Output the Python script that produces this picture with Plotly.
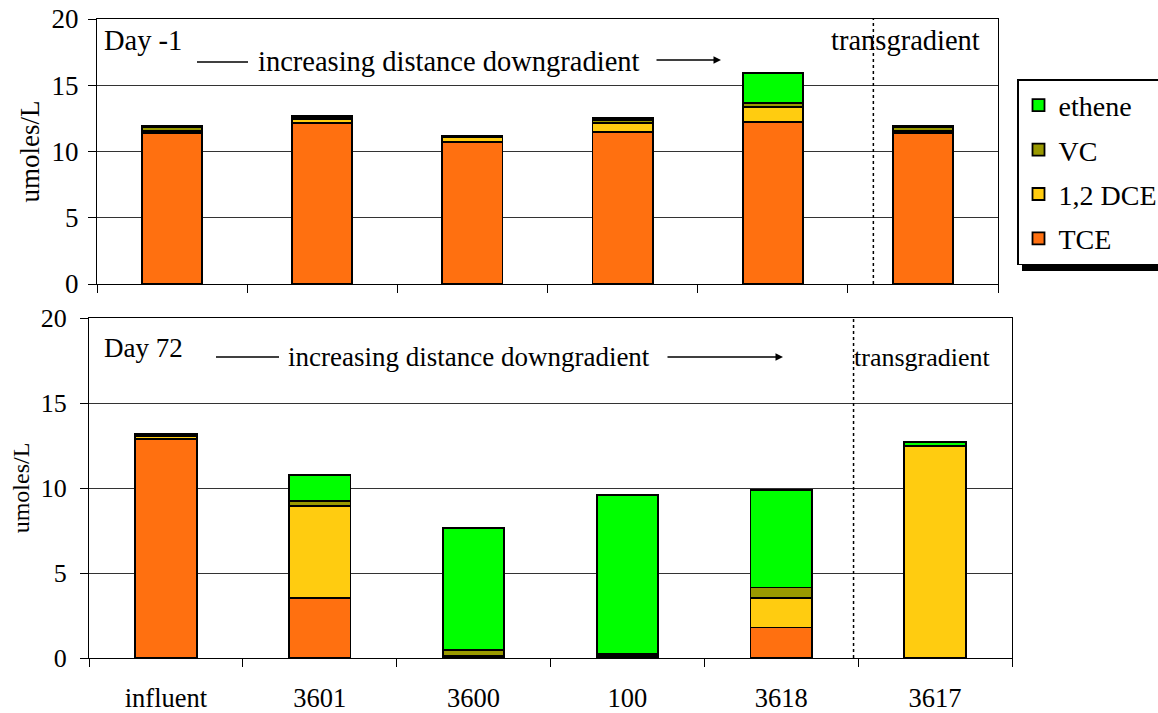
import plotly.graph_objects as go

W, H = 1158, 713

categories = ["influent", "3601", "3600", "100", "3618", "3617"]

# Day -1 (umoles/L)
tce_day_m1 = [11.4, 12.15, 10.7, 11.45, 12.2, 11.4]
dce_day_m1 = [0.15, 0.3, 0.35, 0.7, 1.15, 0.15]
vc_day_m1 = [0.3, 0.15, 0.1, 0.2, 0.3, 0.3]
ethene_day_m1 = [0.05, 0.05, 0.05, 0.15, 2.25, 0.05]

# Day 72 (umoles/L)
tce_day_72 = [12.9, 3.55, 0.05, 0.05, 1.8, 0.0]
dce_day_72 = [0.15, 5.4, 0.1, 0.05, 1.75, 12.45]
vc_day_72 = [0.1, 0.3, 0.3, 0.15, 0.6, 0.0]
ethene_day_72 = [0.05, 1.5, 7.2, 9.35, 5.75, 0.25]

series_names = ["TCE", "1,2 DCE", "VC", "ethene"]
series_colors = ["#FF7010", "#FFCC10", "#999900", "#00FF00"]
legend_ranks = [4, 3, 2, 1]

FONT = "Liberation Serif, Times New Roman, serif"


def px(x):
    return x / W


def py(y):
    return 1 - y / H


fig = go.Figure()

top_sets = [tce_day_m1, dce_day_m1, vc_day_m1, ethene_day_m1]
bot_sets = [tce_day_72, dce_day_72, vc_day_72, ethene_day_72]

for name, color, rank, vals in zip(series_names, series_colors, legend_ranks, top_sets):
    fig.add_trace(go.Bar(
        x=categories, y=vals, name=name, marker=dict(color=color, line=dict(color="black", width=1.8)),
        width=0.4, xaxis="x", yaxis="y", legendgroup=name, legendrank=rank, showlegend=True))

for name, color, rank, vals in zip(series_names, series_colors, legend_ranks, bot_sets):
    fig.add_trace(go.Bar(
        x=categories, y=vals, name=name, marker=dict(color=color, line=dict(color="black", width=1.8)),
        width=0.4, xaxis="x2", yaxis="y2", legendgroup=name, legendrank=rank, showlegend=False))

axis_common = dict(
    showline=True, linecolor="black", linewidth=1.2, mirror=True,
    ticks="outside", tickcolor="black", ticklen=8, tickwidth=1, automargin=False,
)

fig.update_layout(
    width=W, height=H, autosize=False,
    margin=dict(l=0, r=0, t=0, b=0, autoexpand=False),
    paper_bgcolor="white", plot_bgcolor="white",
    barmode="stack", bargap=0.6,
    font=dict(family=FONT, color="black"),
    xaxis=dict(domain=[px(97), px(998)], anchor="y", showticklabels=False,
               tickson="boundaries", showgrid=False, **axis_common),
    yaxis=dict(domain=[py(284), py(19)], anchor="x", range=[0, 20], dtick=5,
               showgrid=True, gridcolor="#333333", gridwidth=1, ticklabelstandoff=4,
               tickfont=dict(family=FONT, size=27, color="black"),
               title=dict(text="umoles/L", font=dict(family=FONT, size=27, color="black"), standoff=4),
               **axis_common),
    xaxis2=dict(domain=[px(89), px(1012)], anchor="y2", showticklabels=True, ticklabelstandoff=16,
                tickfont=dict(family=FONT, size=26.5, color="black"),
                tickson="boundaries", showgrid=False, **axis_common),
    yaxis2=dict(domain=[py(658), py(318)], anchor="x2", range=[0, 20], dtick=5,
                showgrid=True, gridcolor="#333333", gridwidth=1, ticklabelstandoff=8,
                tickfont=dict(family=FONT, size=26, color="black"),
                title=dict(text="umoles/L", font=dict(family=FONT, size=24, color="black"), standoff=4),
                **axis_common),
    legend=dict(
        x=px(1017), y=py(79), xanchor="left", yanchor="top",
        bgcolor="white", bordercolor="black", borderwidth=1.5,
        font=dict(family=FONT, size=28, color="black"),
        traceorder="grouped", tracegroupgap=5, itemwidth=30,
    ),
)

shapes = [
    # legend shadow
    dict(type="rect", xref="paper", yref="paper", x0=px(1022), x1=px(1158), y0=py(271), y1=py(90),
         fillcolor="black", line=dict(width=0), layer="below"),
    # dotted separators
    dict(type="line", xref="x", yref="y", x0=4.67, x1=4.67, y0=0, y1=20,
         line=dict(color="black", width=1.5, dash="dot")),
    dict(type="line", xref="x2", yref="y2", x0=4.47, x1=4.47, y0=0, y1=20,
         line=dict(color="black", width=1.5, dash="dot")),
    # left dashes of the annotation lines
    dict(type="line", xref="paper", yref="paper", x0=px(197), x1=px(248), y0=py(62), y1=py(62),
         line=dict(color="black", width=1.5)),
    dict(type="line", xref="paper", yref="paper", x0=px(216), x1=px(279), y0=py(357), y1=py(357),
         line=dict(color="black", width=1.5)),
]
fig.update_layout(shapes=shapes)

ann = []


def text(x, y, s, size, anchor="left"):
    ann.append(dict(xref="paper", yref="paper", x=px(x), y=py(y), text=s, showarrow=False,
                    xanchor=anchor, yanchor="middle", font=dict(family=FONT, size=size, color="black")))


text(102, 40, "Day -1", 28.5)
text(256, 62, "increasing distance downgradient", 28.5)
text(829, 40, "transgradient", 28.5)
text(102, 348, "Day 72", 27)
text(286, 357, "increasing distance downgradient", 27)
text(852, 357, "transgradient", 26)

# arrows
ann.append(dict(xref="paper", yref="paper", x=px(721), y=py(60), ax=-66, ay=0, text="",
                showarrow=True, arrowhead=2, arrowsize=1, arrowwidth=1.5, arrowcolor="black"))
ann.append(dict(xref="paper", yref="paper", x=px(783), y=py(357), ax=-117, ay=0, text="",
                showarrow=True, arrowhead=2, arrowsize=1, arrowwidth=1.5, arrowcolor="black"))

fig.update_layout(annotations=ann)

fig.write_html("out.html", config={"displayModeBar": False},
               post_script="document.body.style.margin='0';")
